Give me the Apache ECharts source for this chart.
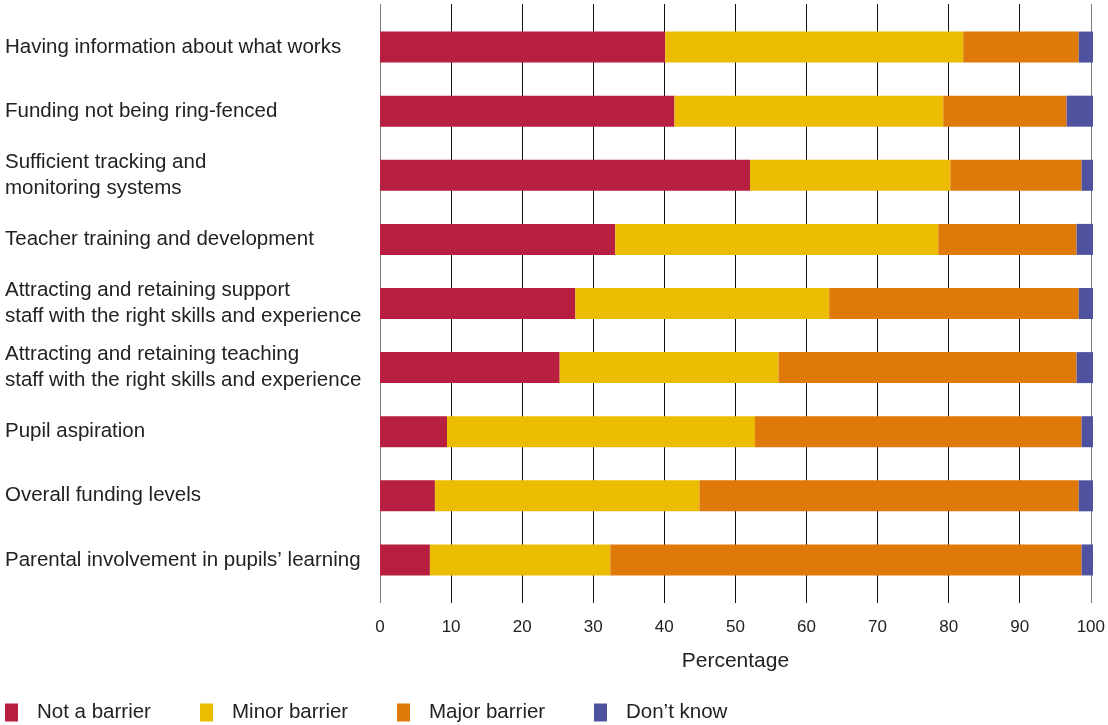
<!DOCTYPE html>
<html>
<head>
<meta charset="utf-8">
<script src="https://cdn.jsdelivr.net/npm/echarts@6/dist/echarts.min.js"></script>
<style>
  html, body { margin: 0; padding: 0; background: #fff; }
  #chart { width: 1108px; height: 725px; }
</style>
</head>
<body>
<div id="chart"></div>
<script>
// Barriers, listed top to bottom
const categories = [
  'Having information about what works',
  'Funding not being ring-fenced',
  'Sufficient tracking and\nmonitoring systems',
  'Teacher training and development',
  'Attracting and retaining support\nstaff with the right skills and experience',
  'Attracting and retaining teaching\nstaff with the right skills and experience',
  'Pupil aspiration',
  'Overall funding levels',
  "Parental involvement in pupils\u2019 learning"
];

// Percentage of respondents per response
const notABarrier  = [40.0, 41.3, 51.9, 33.0, 27.4, 25.2,  9.4,  7.7,  7.0];
const minorBarrier = [41.8, 37.7, 28.1, 45.3, 35.6, 30.7, 43.2, 37.1, 25.3];
const majorBarrier = [16.2, 17.3, 18.4, 19.4, 35.0, 41.8, 45.8, 53.2, 66.1];
const dontKnow     = [ 2.0,  3.7,  1.6,  2.3,  2.0,  2.3,  1.6,  2.0,  1.6];

const xTicks = [0, 10, 20, 30, 40, 50, 60, 70, 80, 90, 100];

const FONT = '"Liberation Sans", Arial, Helvetica, sans-serif';
const TEXT = '#222222';

const seriesDefs = [
  { name: 'Not a barrier', data: notABarrier,  color: '#B71E3F' },
  { name: 'Minor barrier', data: minorBarrier, color: '#ECBC00' },
  { name: 'Major barrier', data: majorBarrier, color: '#DF7909' },
  { name: 'Don\u2019t know',   data: dontKnow,     color: '#4F529F' }
];

const legendLefts = [5, 200, 397, 594];

const chart = echarts.init(document.getElementById('chart'), null, { renderer: 'canvas' });

chart.setOption({
  animation: false,
  backgroundColor: '#ffffff',
  textStyle: { fontFamily: FONT },
  grid: [
    // gridlines + value axis
    { left: 380, right: 15, top: 4, bottom: 122 },
    // bars
    { left: 380, right: 15, top: 15, bottom: 133 }
  ],
  xAxis: [
    {
      gridIndex: 0,
      type: 'value',
      min: 0,
      max: 100,
      interval: 10,
      name: 'Percentage',
      nameLocation: 'middle',
      nameGap: 48,
      nameTextStyle: { fontSize: 21, color: TEXT, fontFamily: FONT },
      axisLine: { show: false },
      axisTick: { show: false },
      axisLabel: {
        fontSize: 17, color: TEXT, fontFamily: FONT, margin: 16,
        formatter: v => xTicks.includes(v) ? String(v) : ''
      },
      splitLine: {
        show: true,
        lineStyle: {
          width: 1,
          color: ['#7a7a7a', '#111', '#111', '#111', '#111', '#111', '#111', '#111', '#111', '#111']
        }
      }
    },
    {
      gridIndex: 1,
      type: 'value',
      min: 0,
      max: 100,
      show: false,
      splitLine: { show: false }
    }
  ],
  yAxis: [
    { gridIndex: 0, type: 'value', show: false, splitLine: { show: false } },
    {
      gridIndex: 1,
      type: 'category',
      inverse: true,
      data: categories,
      axisLine: { show: false },
      axisTick: { show: false },
      splitLine: { show: false },
      axisLabel: {
        align: 'left',
        margin: 375,
        fontSize: 20.5,
        lineHeight: 26,
        padding: [3, 0, 0, 0],
        color: TEXT,
        fontFamily: FONT
      }
    }
  ],
  legend: seriesDefs.map((s, i) => ({
    data: [s.name],
    left: legendLefts[i],
    top: 702,
    padding: 0,
    icon: 'rect',
    itemWidth: 13,
    itemHeight: 18,
    selectedMode: false,
    textStyle: { fontSize: 20.5, color: TEXT, fontFamily: FONT, padding: [0, 0, 0, 14] }
  })),
  series: seriesDefs.map(s => ({
    name: s.name,
    type: 'bar',
    stack: 'total',
    xAxisIndex: 1,
    yAxisIndex: 1,
    barWidth: 31,
    data: s.data,
    itemStyle: { color: s.color },
    emphasis: { disabled: true }
  }))
});
</script>
</body>
</html>
